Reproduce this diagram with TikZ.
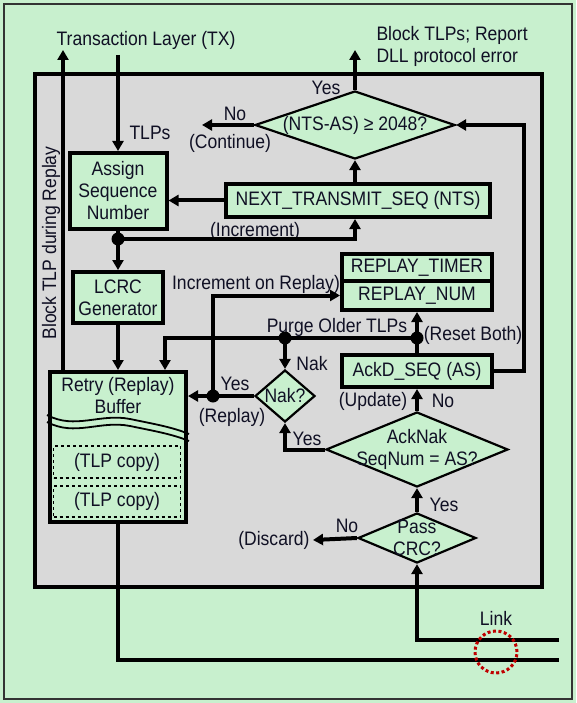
\documentclass[tikz,border=0pt]{standalone}
\usepackage{fontspec}
\setmainfont{Liberation Sans}[FakeStretch=0.9]
\usetikzlibrary{shapes.geometric,arrows.meta,positioning,calc}
\definecolor{boxgreen}{RGB}{200,240,206}
\definecolor{panelgray}{RGB}{217,217,217}
\definecolor{linkred}{RGB}{192,0,0}
\definecolor{inkblue}{RGB}{16,16,36}

\begin{document}
\begin{tikzpicture}[x=1pt,y=-1pt,font=\fontsize{19.5}{22}\selectfont,text=inkblue,
  wire/.style={line width=4pt},
  arr/.style={wire,-{Triangle[width=11pt,length=10pt]}},
  blk/.style={draw,line width=4pt,fill=boxgreen,inner sep=0pt,align=center},
  dia/.style={draw,line width=2.2pt,fill=boxgreen,diamond,inner sep=-8pt,align=center},
  copybox/.style={draw,dashed,line width=1.8pt,inner sep=0pt,minimum width=127pt}]
  % Background and panel
  \useasboundingbox (0,0) rectangle (576,703);
  \fill[boxgreen] (0,0) rectangle (576,703);
  \draw[line width=1.2pt,black!80] (4,4) rectangle (572,699);
  \draw[line width=4.5pt,fill=panelgray] (35,74) rectangle (542,587);

  % Transmit side
  \node[blk,minimum width=97pt,minimum height=76pt] (asn) at (118,191) {Assign\\Sequence\\Number};
  \node[blk,minimum width=90pt,minimum height=51pt] (lcrc) at (118,297.5) {LCRC\\Generator};
  \node[blk,minimum width=264pt,minimum height=33pt] (nts) at (358,200.5) {NEXT\_TRANSMIT\_SEQ (NTS)};
  \node[dia,aspect=2.94,minimum width=200pt,minimum height=68pt] (chk) at (355,125) {(NTS-AS) ≥ 2048?};

  % Retry buffer
  \node[blk,minimum width=136pt,minimum height=150pt] (buf) at (118,447) {};
  \node[align=center] (buftxt) at (118,396) {Retry (Replay)\\Buffer};
  \draw[line width=1.8pt] (47,415) .. controls (75,430) and (100,413) .. (130,419) .. controls (154,424) and (172,427) .. (189,434);
  \draw[line width=1.8pt] (47,422) .. controls (75,437) and (100,420) .. (130,426) .. controls (154,431) and (172,434) .. (189,441);
  \node[copybox,minimum height=32pt] (cp1) at (117,462) {(TLP copy)};
  \node[copybox,minimum height=31pt] (cp2) at (117,501.5) {(TLP copy)};

  % Receive side
  \node[blk,minimum width=150pt,minimum height=27pt] (rtim) at (417,267.5) {REPLAY\_TIMER};
  \node[blk,minimum width=150pt,minimum height=29pt] (rnum) at (417,295.5) {REPLAY\_NUM};
  \node[blk,minimum width=150pt,minimum height=32pt] (as) at (417,371) {AckD\_SEQ (AS)};
  \node[dia,aspect=1.15,minimum width=60pt,minimum height=52pt] (nak) at (285,396) {Nak?};
  \node[dia,aspect=2.43,minimum width=182pt,minimum height=75pt] (ack) at (417,449.5) {AckNak\\SeqNum = AS?};
  \node[dia,aspect=2.36,minimum width=118pt,minimum height=50pt] (crc) at (417,538) {Pass\\CRC?};

  % Labels
  \node (txl) at (146,40) {Transaction Layer (TX)};
  \node[align=left,anchor=west] (err) at (373,46.5) {Block TLPs; Report\\DLL protocol error};
  \node[rotate=90] (blkrep) at (51,243) {Block TLP during Replay};
  \node (tlps) at (150,133) {TLPs};
  \node (yes1) at (326,88) {Yes};
  \node (no1) at (235,114) {No};
  \node (cont1) at (230,143) {(Continue)};
  \node (incr) at (255,231) {(Increment)};
  \node (incrp) at (256,284) {Increment on Replay)};
  \node (purgel) at (337,327) {Purge Older TLPs};
  \node (reset) at (473,335) {(Reset Both)};
  \node (nakl) at (312,364) {Nak};
  \node (yes2) at (235,384) {Yes};
  \node (replay) at (232,417) {(Replay)};
  \node (upd) at (373,401) {(Update)};
  \node (no2) at (443,401) {No};
  \node (yes3) at (307,439) {Yes};
  \node (yes4) at (444,505) {Yes};
  \node (no3) at (347,526) {No};
  \node[anchor=east] (discard) at (313,540) {(Discard)};
  \node (link) at (496,618) {Link};

  % Junctions and free ends
  \coordinate (txin) at (118,55);
  \coordinate (blkup) at (63,50);
  \coordinate (errup) at (355,50);
  \coordinate (cont) at (202,125);
  \coordinate (incdot) at (118,239);
  \coordinate (rstdot) at (417,338);
  \coordinate (nakdot) at (285,338);
  \coordinate (purge) at (165,338);
  \coordinate (rpdot) at (213,396);
  \coordinate (rxlink) at (559,640);
  \coordinate (txlink) at (559,660);

  % Connectors
  \draw[arr] (txin) -- (asn.north);
  \draw[arr] (blkup |- buf.north) -- (blkup);
  \draw[arr] (asn.south) -- (lcrc.north);
  \draw[arr] (incdot) -| (chk.south |- nts.south);
  \draw[arr] (nts.west) -- (nts.west -| asn.east);
  \draw[arr] (chk.south |- nts.north) -- (chk.south);
  \draw[arr] (chk.north) -- (errup);
  \draw[arr] (chk.west) -- (cont);
  \draw[arr] (as.east) -- ++(30,0) |- (chk.east);
  \draw[arr] (lcrc.south) -- (lcrc.south |- buf.north);
  \draw[arr] (as.north) -- (rnum.south);
  \draw[arr] (rstdot) -- (purge) -- (purge |- buf.north);
  \draw[arr] (nakdot) -- (nak.north);
  \draw[arr] (nak.west) -- (nak.west -| buf.east);
  \draw[arr] (rpdot) |- (rnum.west);
  \draw[arr] (ack.north) -- (as.south);
  \draw[arr] (ack.west) -| (nak.south);
  \draw[arr] (crc.north) -- (ack.south);
  \draw[arr] (crc.west) -- (discard.east);
  \draw[arr] (rxlink) -| (crc.south);
  \draw[wire] (buf.south) |- (txlink);
  \foreach \j in {incdot,rstdot,nakdot,rpdot}
    \fill (\j) circle (6.5pt);

  % Link marker
  \draw[linkred,line width=3pt,dash pattern=on 3pt off 2.5pt] (496,652) circle (21pt);
\end{tikzpicture}
\end{document}
